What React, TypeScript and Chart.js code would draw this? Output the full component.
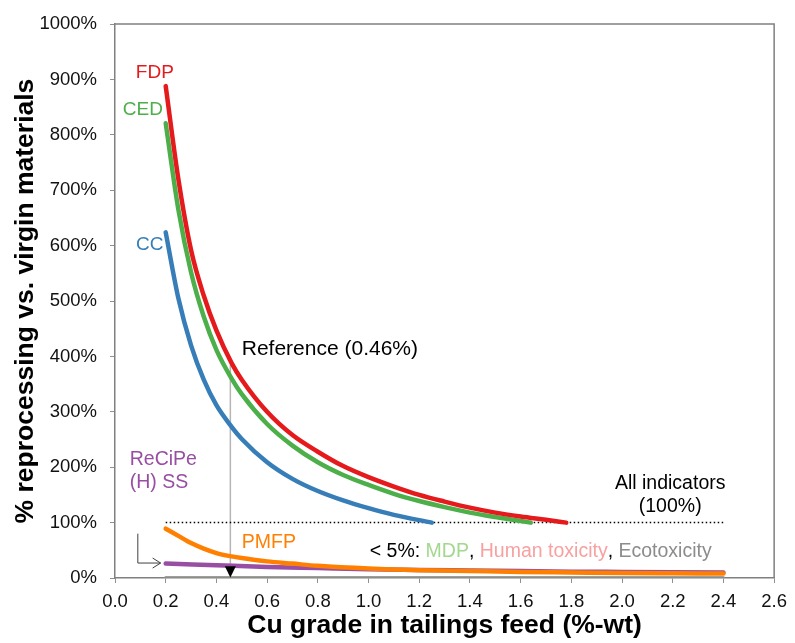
import React, { useEffect, useRef } from 'react';
import { Chart, registerables } from 'chart.js';

Chart.register(...registerables);

const FONT = '"Liberation Sans", Arial, sans-serif';

// Cu grade (%-wt) and % reprocessing vs. virgin materials
const fdpX = [0.2, 0.25, 0.3, 0.35, 0.4, 0.46, 0.5, 0.6, 0.7, 0.8, 0.9, 1.0, 1.1, 1.2, 1.3, 1.4, 1.5, 1.6, 1.7, 1.78];
const fdpY = [888, 720, 592, 510, 447, 388, 358, 300, 258, 228, 202, 182, 165, 150, 138, 127, 118, 111, 105, 100];

const cedX = [0.2, 0.25, 0.3, 0.35, 0.4, 0.46, 0.5, 0.6, 0.7, 0.8, 0.9, 1.0, 1.1, 1.2, 1.3, 1.4, 1.5, 1.64];
const cedY = [821, 665, 552, 472, 412, 360, 332, 278, 239, 209, 186, 168, 152, 139, 128, 118, 110, 100];

const ccX = [0.2, 0.25, 0.3, 0.35, 0.4, 0.46, 0.5, 0.6, 0.7, 0.8, 0.9, 1.0, 1.1, 1.25];
const ccY = [624, 505, 420, 358, 312, 273, 251, 209, 179, 157, 140, 126, 114, 100];

const pmfpX = [0.2, 0.25, 0.3, 0.35, 0.4, 0.46, 0.5, 0.6, 0.7, 0.8, 1.0, 1.2, 1.4, 1.6, 1.8, 2.0, 2.2, 2.4];
const pmfpY = [89, 76, 63, 53, 45, 39, 36, 30, 26, 22, 17, 14, 12.5, 11, 10, 9, 8.5, 8];

const recipeX = [0.2, 0.4, 0.6, 0.8, 1.0, 1.2, 1.4, 1.6, 1.8, 2.0, 2.2, 2.4];
const recipeY = [26, 23, 20, 18, 16, 14.5, 13.5, 12.5, 11.5, 11, 10.5, 10];

const lowX = [0.2, 0.8, 1.6, 2.4];
const mdpY = [1.0, 0.9, 0.8, 0.8];
const humanToxY = [0.6, 0.5, 0.5, 0.5];
const ecoToxY = [0.2, 0.2, 0.2, 0.2];

const allIndX = [0.2, 2.4];
const allIndY = [100, 100];

const referenceGrade = 0.455;
const referenceTop = 385;

const pts = (xs: number[], ys: number[]) => xs.map((x, i) => ({ x, y: ys[i] }));

const C = {
  red: '#e41a1c',
  green: '#4daf4a',
  blue: '#377eb8',
  orange: '#ff7f00',
  purple: '#984ea3',
  mdp: '#a3d88f',
  human: '#f7a1a1',
  eco: '#8c8c8c',
};

const frameAndNotes = {
  id: 'frameAndNotes',
  beforeDatasetsDraw(chart: any) {
    const { ctx, scales } = chart;
    const x = scales.x, y = scales.y;
    ctx.save();
    ctx.strokeStyle = '#b5b5b5';
    ctx.lineWidth = 1.5;
    const rx = x.getPixelForValue(referenceGrade);
    ctx.beginPath();
    ctx.moveTo(rx, y.getPixelForValue(referenceTop));
    ctx.lineTo(rx, y.getPixelForValue(15));
    ctx.stroke();
    ctx.restore();
  },
  afterDatasetsDraw(chart: any) {
    const { ctx, chartArea, scales } = chart;
    const x = scales.x, y = scales.y;
    ctx.save();
    // top and right frame
    ctx.strokeStyle = '#808080';
    ctx.lineWidth = 1.5;
    ctx.beginPath();
    ctx.moveTo(chartArea.left, chartArea.top);
    ctx.lineTo(chartArea.right, chartArea.top);
    ctx.lineTo(chartArea.right, chartArea.bottom);
    ctx.stroke();

    // reference triangle
    const rx = x.getPixelForValue(referenceGrade);
    const tTop = y.getPixelForValue(21);
    const tTip = y.getPixelForValue(1);
    ctx.fillStyle = '#000';
    ctx.beginPath();
    ctx.moveTo(rx - 5.5, tTop);
    ctx.lineTo(rx + 5.5, tTop);
    ctx.lineTo(rx, tTip);
    ctx.closePath();
    ctx.fill();

    // ReCiPe arrow
    const ax = x.getPixelForValue(0.09);
    const ay0 = y.getPixelForValue(80);
    const ay1 = y.getPixelForValue(27);
    const ax1 = x.getPixelForValue(0.18);
    ctx.strokeStyle = '#404040';
    ctx.lineWidth = 1;
    ctx.beginPath();
    ctx.moveTo(ax, ay0);
    ctx.lineTo(ax, ay1);
    ctx.lineTo(ax1, ay1);
    ctx.moveTo(ax1 - 8, ay1 - 5);
    ctx.lineTo(ax1, ay1);
    ctx.lineTo(ax1 - 8, ay1 + 5);
    ctx.stroke();

    const text = (s: string, vx: number, vy: number, color: string, size: number, align: CanvasTextAlign = 'left') => {
      ctx.font = `${size}px ${FONT}`;
      ctx.fillStyle = color;
      ctx.textAlign = align;
      ctx.textBaseline = 'middle';
      ctx.fillText(s, x.getPixelForValue(vx), y.getPixelForValue(vy));
    };
    text('FDP', 0.157, 912, C.red, 19, 'center');
    text('CED', 0.11, 846, C.green, 19, 'center');
    text('CC', 0.137, 602, C.blue, 19, 'center');
    text('Reference (0.46%)', 0.5, 413, '#000', 21);
    text('ReCiPe', 0.058, 213, C.purple, 19.5);
    text('(H) SS', 0.058, 173, C.purple, 19.5);
    text('PMFP', 0.5, 63, C.orange, 19.5);
    text('All indicators', 2.19, 170, '#000', 19.5, 'center');
    text('(100%)', 2.19, 129, '#000', 19.5, 'center');

    // multi-coloured note
    const parts: [string, string][] = [
      ['< 5%: ', '#000'],
      ['MDP', C.mdp],
      [', ', '#000'],
      ['Human toxicity', C.human],
      [', ', '#000'],
      ['Ecotoxicity', C.eco],
    ];
    ctx.font = `19.5px ${FONT}`;
    ctx.textAlign = 'left';
    ctx.textBaseline = 'middle';
    let px = x.getPixelForValue(1.005);
    const py = y.getPixelForValue(48);
    for (const [s, col] of parts) {
      ctx.fillStyle = col;
      ctx.fillText(s, px, py);
      px += ctx.measureText(s).width;
    }
    ctx.restore();
  },
};

export default function App() {
  const ref = useRef<HTMLCanvasElement>(null);
  useEffect(() => {
    if (!ref.current) return;
    const line = (label: string, data: any[], color: string, width = 4.5, extra: any = {}) => ({
      label,
      data,
      borderColor: color,
      backgroundColor: color,
      borderWidth: width,
      pointRadius: 0,
      fill: false,
      cubicInterpolationMode: 'monotone',
      borderCapStyle: 'round',
      ...extra,
    });
    const chart = new Chart(ref.current, {
      type: 'line',
      data: {
        datasets: [
          line('FDP', pts(fdpX, fdpY), C.red),
          line('CED', pts(cedX, cedY), C.green),
          line('CC', pts(ccX, ccY), C.blue),
          line('All indicators', pts(allIndX, allIndY), '#000', 1.5, { borderDash: [1.5, 2.5], borderCapStyle: 'butt' }),
          line('PMFP', pts(pmfpX, pmfpY), C.orange),
          line('ReCiPe (H) SS', pts(recipeX, recipeY), C.purple),
          line('Ecotoxicity', pts(lowX, ecoToxY), C.eco, 3.5),
          line('MDP', pts(lowX, mdpY), C.mdp, 2),
          line('Human toxicity', pts(lowX, humanToxY), C.human, 2),
        ],
      },
      options: {
        animation: false,
        responsive: false,
        maintainAspectRatio: false,
        devicePixelRatio: 1,
        layout: { padding: { top: 20, right: 16, left: 0, bottom: 0 } },
        plugins: { legend: { display: false }, tooltip: { enabled: false } },
        scales: {
          x: {
            type: 'linear',
            min: 0,
            max: 2.6,
            afterFit: (s: any) => { s.height = 65; },
            ticks: {
              stepSize: 0.2,
              color: '#111',
              font: { family: FONT, size: 18.5 },
              padding: 8,
              maxRotation: 0,
              callback: (v: any) => Number(v).toFixed(1),
            },
            grid: { drawOnChartArea: false, drawTicks: true, tickLength: 5, color: '#909090', lineWidth: 1 },
            border: { display: true, color: '#808080', width: 1.5 },
            title: {
              display: true,
              text: 'Cu grade in tailings feed (%-wt)',
              color: '#000',
              font: { family: FONT, size: 26.5, weight: 'bold' },
              padding: { top: 1, bottom: 1 },
            },
          },
          y: {
            type: 'linear',
            min: 0,
            max: 1000,
            afterFit: (s: any) => { s.width = 115; },
            ticks: {
              stepSize: 100,
              color: '#111',
              font: { family: FONT, size: 18.5 },
              padding: 13,
              callback: (v: any) => `${v}%`,
            },
            grid: { drawOnChartArea: false, drawTicks: true, tickLength: 5, color: '#909090', lineWidth: 1 },
            border: { display: true, color: '#808080', width: 1.5 },
            title: {
              display: true,
              text: '% reprocessing vs. virgin materials',
              color: '#000',
              font: { family: FONT, size: 26.5, weight: 'bold' },
              padding: { top: 10, bottom: 0 },
            },
          },
        },
      },
      plugins: [frameAndNotes],
    } as any);
    return () => chart.destroy();
  }, []);
  return (
    <div style={{ position: 'fixed', left: 0, top: 0, width: 795, height: 643, background: '#fff' }}>
      <canvas ref={ref} width={795} height={643} style={{ width: 795, height: 643, display: 'block' }} />
    </div>
  );
}
